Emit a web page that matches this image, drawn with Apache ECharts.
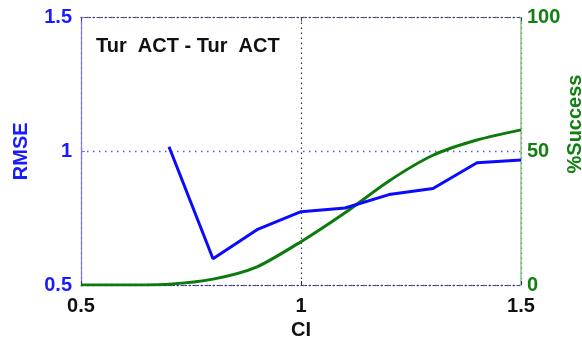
<!DOCTYPE html>
<html>
<head>
<meta charset="utf-8">
<script src="https://cdn.jsdelivr.net/npm/echarts@6/dist/echarts.min.js"></script>
<style>
  html, body { margin: 0; padding: 0; background: #fff; }
  #chart { width: 582px; height: 341px; }
</style>
</head>
<body>
<div id="chart"></div>
<script>
// CI threshold values along the x axis
const ciValues = [0.5, 0.6, 0.7, 0.8, 0.9, 1.0, 1.1, 1.2, 1.3, 1.4, 1.5];
// RMSE (left axis); no value below CI = 0.7
const rmseValues = [null, null, 1.017, 0.598, 0.707, 0.774, 0.788, 0.838, 0.861, 0.957, 0.967];
// Success rate in percent (right axis)
const successValues = [0, 0, 0.3, 2.2, 6.8, 16.2, 27.0, 38.9, 48.5, 54.2, 58.0];

const xTicks = [0.5, 1, 1.5];
const rmseTicks = [0.5, 1, 1.5];
const successTicks = [0, 50, 100];

const panelTitle = 'Tur  ACT - Tur  ACT';
const successName = '%Success';

const FONT = '"Liberation Sans", Arial, sans-serif';
const BLUE = '#1a1aff';
const GREEN = '#118011';

const chart = echarts.init(document.getElementById('chart'), null, { renderer: 'canvas' });

const pairs = (ys) => ciValues.map((x, i) => [x, ys[i]]);
const tickText = (list) => (v) => list.includes(+v.toFixed(2)) ? String(+v.toFixed(2)) : '';

chart.setOption({
  animation: false,
  backgroundColor: '#ffffff',
  grid: { left: 81, right: 61, top: 17.5, bottom: 56, containLabel: false, outerBoundsMode: 'none' },
  graphic: [{
    type: 'text',
    left: 96,
    top: 36,
    style: { text: panelTitle, font: 'bold 20px ' + FONT, fill: '#111' }
  }, {
    // right-axis title, reading bottom to top
    type: 'text',
    x: 575,
    y: 124,
    rotation: Math.PI / 2,
    style: {
      text: successName, font: 'bold 20px ' + FONT, fill: GREEN,
      align: 'center', verticalAlign: 'middle'
    }
  }],
  xAxis: [{
    type: 'value',
    min: 0.5, max: 1.5, interval: 0.5,
    name: 'CI',
    nameLocation: 'middle',
    nameGap: 31,
    nameTextStyle: { fontFamily: FONT, fontWeight: 'bold', fontSize: 20, color: '#111' },
    axisLine: { show: true, onZero: false, lineStyle: { color: '#333366', type: [1.5, 2.5], width: 1.2 } },
    axisTick: { show: true, inside: true, length: 4, lineStyle: { color: '#333' } },
    axisLabel: {
      margin: 11, fontFamily: FONT, fontWeight: 'bold', fontSize: 20, color: '#111',
      formatter: tickText(xTicks)
    },
    splitLine: { show: true, lineStyle: { color: '#333', type: [1.5, 3.5], width: 1.2 } }
  }, {
    // plain dotted frame edge along the top
    type: 'value',
    position: 'top',
    min: 0.5, max: 1.5, interval: 0.5,
    axisLine: { show: true, onZero: false, lineStyle: { color: '#444', type: [1.5, 2.5], width: 1.2 } },
    axisTick: { show: true, inside: true, length: 4, lineStyle: { color: '#444' } },
    axisLabel: { show: false },
    splitLine: { show: false }
  }],
  yAxis: [{
    type: 'value',
    min: 0.5, max: 1.5, interval: 0.5,
    name: 'RMSE',
    nameLocation: 'middle',
    nameGap: 50,
    nameTextStyle: { fontFamily: FONT, fontWeight: 'bold', fontSize: 20, color: BLUE },
    axisLine: { show: true, onZero: false, lineStyle: { color: '#7777ff', width: 1.2 } },
    axisTick: { show: true, inside: true, length: 4, lineStyle: { color: '#7777ff' } },
    axisLabel: {
      margin: 9, fontFamily: FONT, fontWeight: 'bold', fontSize: 20, color: BLUE,
      formatter: tickText(rmseTicks)
    },
    splitLine: { show: true, lineStyle: { color: '#5555ff', type: [1.5, 4.5], width: 1.4 } }
  }, {
    type: 'value',
    min: 0, max: 100, interval: 50,
    position: 'right',
    axisLine: { show: true, onZero: false, lineStyle: { color: '#88c888', width: 1.5 } },
    axisTick: { show: false },
    axisLabel: {
      margin: 6, fontFamily: FONT, fontWeight: 'bold', fontSize: 20, color: GREEN,
      formatter: (v) => successTicks.includes(v) ? String(v) : ''
    },
    splitLine: { show: false }
  }],
  series: [{
    type: 'line',
    xAxisIndex: 0,
    yAxisIndex: 0,
    data: pairs(rmseValues),
    showSymbol: false,
    connectNulls: false,
    lineStyle: { color: '#0a0aff', width: 3 },
    z: 3
  }, {
    type: 'line',
    xAxisIndex: 0,
    yAxisIndex: 1,
    data: pairs(successValues),
    showSymbol: false,
    smooth: 0.25,
    lineStyle: { color: '#0c7a0c', width: 3 },
    z: 2
  }]
});
</script>
</body>
</html>
